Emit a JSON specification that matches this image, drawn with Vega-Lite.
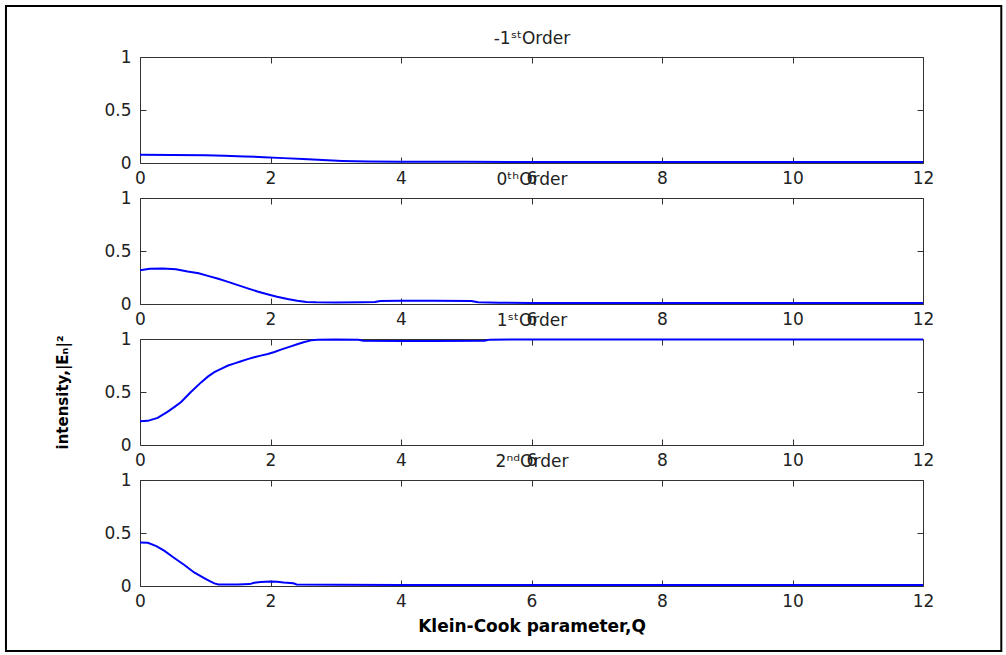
{
  "$schema": "https://vega.github.io/schema/vega-lite/v6.json",
  "padding": 4,
  "background": "white",
  "datasets": {
    "m1": [
      {"Q": 0, "I": 0.077}, {"Q": 0.5, "I": 0.076}, {"Q": 1.0, "I": 0.074}, {"Q": 1.3, "I": 0.068},
      {"Q": 1.6, "I": 0.062}, {"Q": 1.9, "I": 0.055}, {"Q": 2.2, "I": 0.046}, {"Q": 2.5, "I": 0.037},
      {"Q": 2.8, "I": 0.028}, {"Q": 3.1, "I": 0.02}, {"Q": 3.5, "I": 0.014}, {"Q": 4, "I": 0.012},
      {"Q": 5, "I": 0.011}, {"Q": 6, "I": 0.01}, {"Q": 8, "I": 0.01}, {"Q": 10, "I": 0.01}, {"Q": 12, "I": 0.01}
    ],
    "o0": [
      {"Q": 0, "I": 0.319}, {"Q": 0.15, "I": 0.333}, {"Q": 0.35, "I": 0.335}, {"Q": 0.55, "I": 0.328},
      {"Q": 0.73, "I": 0.306}, {"Q": 0.9, "I": 0.29}, {"Q": 1.04, "I": 0.265}, {"Q": 1.2, "I": 0.238},
      {"Q": 1.35, "I": 0.209}, {"Q": 1.5, "I": 0.178}, {"Q": 1.65, "I": 0.147}, {"Q": 1.8, "I": 0.118},
      {"Q": 1.98, "I": 0.087}, {"Q": 2.1, "I": 0.068}, {"Q": 2.26, "I": 0.047}, {"Q": 2.41, "I": 0.03},
      {"Q": 2.55, "I": 0.02}, {"Q": 2.7, "I": 0.016}, {"Q": 3.0, "I": 0.015}, {"Q": 3.4, "I": 0.016},
      {"Q": 3.6, "I": 0.019}, {"Q": 3.68, "I": 0.028}, {"Q": 4.0, "I": 0.03}, {"Q": 4.5, "I": 0.03},
      {"Q": 5.08, "I": 0.028}, {"Q": 5.18, "I": 0.016}, {"Q": 5.5, "I": 0.012}, {"Q": 6, "I": 0.01},
      {"Q": 8, "I": 0.01}, {"Q": 10, "I": 0.01}, {"Q": 12, "I": 0.01}
    ],
    "o1": [
      {"Q": 0, "I": 0.225}, {"Q": 0.12, "I": 0.228}, {"Q": 0.27, "I": 0.256}, {"Q": 0.42, "I": 0.312},
      {"Q": 0.53, "I": 0.36}, {"Q": 0.63, "I": 0.406}, {"Q": 0.78, "I": 0.5}, {"Q": 0.94, "I": 0.593},
      {"Q": 1.04, "I": 0.645}, {"Q": 1.14, "I": 0.687}, {"Q": 1.25, "I": 0.72}, {"Q": 1.35, "I": 0.75},
      {"Q": 1.45, "I": 0.77}, {"Q": 1.55, "I": 0.79}, {"Q": 1.65, "I": 0.81}, {"Q": 1.75, "I": 0.828},
      {"Q": 1.85, "I": 0.843}, {"Q": 1.96, "I": 0.859}, {"Q": 2.06, "I": 0.878}, {"Q": 2.16, "I": 0.9},
      {"Q": 2.3, "I": 0.928}, {"Q": 2.42, "I": 0.953}, {"Q": 2.52, "I": 0.972}, {"Q": 2.62, "I": 0.987},
      {"Q": 2.72, "I": 0.992}, {"Q": 3.0, "I": 0.995}, {"Q": 3.35, "I": 0.993}, {"Q": 3.42, "I": 0.983},
      {"Q": 4.0, "I": 0.982}, {"Q": 4.5, "I": 0.982}, {"Q": 5.28, "I": 0.983}, {"Q": 5.36, "I": 0.994},
      {"Q": 6, "I": 0.995}, {"Q": 8, "I": 0.996}, {"Q": 10, "I": 0.996}, {"Q": 12, "I": 0.996}
    ],
    "o2": [
      {"Q": 0, "I": 0.41}, {"Q": 0.12, "I": 0.408}, {"Q": 0.25, "I": 0.377}, {"Q": 0.37, "I": 0.333},
      {"Q": 0.52, "I": 0.267}, {"Q": 0.68, "I": 0.198}, {"Q": 0.83, "I": 0.128}, {"Q": 0.99, "I": 0.072},
      {"Q": 1.07, "I": 0.045}, {"Q": 1.14, "I": 0.025}, {"Q": 1.2, "I": 0.015}, {"Q": 1.5, "I": 0.015},
      {"Q": 1.68, "I": 0.018}, {"Q": 1.75, "I": 0.03}, {"Q": 1.85, "I": 0.038}, {"Q": 2.0, "I": 0.043},
      {"Q": 2.1, "I": 0.04}, {"Q": 2.2, "I": 0.032}, {"Q": 2.35, "I": 0.025}, {"Q": 2.4, "I": 0.015},
      {"Q": 3, "I": 0.012}, {"Q": 4, "I": 0.01}, {"Q": 6, "I": 0.01}, {"Q": 8, "I": 0.01},
      {"Q": 10, "I": 0.01}, {"Q": 12, "I": 0.01}
    ]
  },
  "spacing": 35,
  "bounds": "flush",
  "vconcat": [
    {
      "width": 783, "height": 106,
      "layer": [
        {
          "data": {"name": "m1"},
          "mark": {"type": "line", "color": "#0000ff", "strokeWidth": 2},
          "encoding": {
            "x": {"field": "Q", "type": "quantitative", "scale": {"domain": [0, 12], "nice": false, "zero": false},
                  "axis": {"orient": "bottom", "values": [0, 2, 4, 6, 8, 10, 12], "title": null, "labelFlush": false, "labelPadding": 13}},
            "y": {"field": "I", "type": "quantitative", "scale": {"domain": [0, 1], "nice": false},
                  "axis": {"orient": "left", "values": [0, 0.5, 1], "format": "~g", "title": null, "labelPadding": 15}}
          }
        },
        {
          "data": {"name": "m1"},
          "mark": {"type": "line", "strokeOpacity": 0},
          "encoding": {
            "x": {"field": "Q", "type": "quantitative",
                  "axis": {"orient": "top", "values": [0, 2, 4, 6, 8, 10, 12], "labels": false, "title": "-1ˢᵗOrder"}},
            "y": {"field": "I", "type": "quantitative", "axis": {"orient": "right", "values": [0, 0.5, 1], "labels": false, "title": null}}
          }
        },
        {
          "data": {"values": [{"frame": "figure"}]},
          "mark": {"type": "rect", "fill": null, "stroke": "#000000", "strokeWidth": 2},
          "encoding": {
            "x": {"datum": -2.054, "type": "quantitative", "axis": null},
            "x2": {"datum": 13.2},
            "y": {"datum": 1.481, "type": "quantitative", "axis": null},
            "y2": {"datum": -4.604}
          }
        }
      ],
      "resolve": {"axis": {"x": "independent", "y": "independent"}}
    },
    {
      "width": 783, "height": 106,
      "layer": [
        {
          "data": {"name": "o0"},
          "mark": {"type": "line", "color": "#0000ff", "strokeWidth": 2},
          "encoding": {
            "x": {"field": "Q", "type": "quantitative", "scale": {"domain": [0, 12], "nice": false, "zero": false},
                  "axis": {"orient": "bottom", "values": [0, 2, 4, 6, 8, 10, 12], "title": null, "labelFlush": false, "labelPadding": 13}},
            "y": {"field": "I", "type": "quantitative", "scale": {"domain": [0, 1], "nice": false},
                  "axis": {"orient": "left", "values": [0, 0.5, 1], "format": "~g", "title": null, "labelPadding": 15}}
          }
        },
        {
          "data": {"name": "o0"},
          "mark": {"type": "line", "strokeOpacity": 0},
          "encoding": {
            "x": {"field": "Q", "type": "quantitative",
                  "axis": {"orient": "top", "values": [0, 2, 4, 6, 8, 10, 12], "labels": false, "title": "0ᵗʰOrder"}},
            "y": {"field": "I", "type": "quantitative", "axis": {"orient": "right", "values": [0, 0.5, 1], "labels": false, "title": null}}
          }
        }
      ],
      "resolve": {"axis": {"x": "independent", "y": "independent"}}
    },
    {
      "width": 783, "height": 106,
      "layer": [
        {
          "data": {"name": "o1"},
          "mark": {"type": "line", "color": "#0000ff", "strokeWidth": 2},
          "encoding": {
            "x": {"field": "Q", "type": "quantitative", "scale": {"domain": [0, 12], "nice": false, "zero": false},
                  "axis": {"orient": "bottom", "values": [0, 2, 4, 6, 8, 10, 12], "title": null, "labelFlush": false, "labelPadding": 13}},
            "y": {"field": "I", "type": "quantitative", "scale": {"domain": [0, 1], "nice": false},
                  "axis": {"orient": "left", "values": [0, 0.5, 1], "format": "~g", "labelPadding": 15,
                           "title": "intensity,|Eₙ|²", "titleFontSize": 15, "titleFontWeight": "bold",
                           "titleColor": "#000000", "titleBaseline": "bottom", "titlePadding": 33}}
          }
        },
        {
          "data": {"name": "o1"},
          "mark": {"type": "line", "strokeOpacity": 0},
          "encoding": {
            "x": {"field": "Q", "type": "quantitative",
                  "axis": {"orient": "top", "values": [0, 2, 4, 6, 8, 10, 12], "labels": false, "title": "1ˢᵗOrder"}},
            "y": {"field": "I", "type": "quantitative", "axis": {"orient": "right", "values": [0, 0.5, 1], "labels": false, "title": null}}
          }
        }
      ],
      "resolve": {"axis": {"x": "independent", "y": "independent"}}
    },
    {
      "width": 783, "height": 106,
      "layer": [
        {
          "data": {"name": "o2"},
          "mark": {"type": "line", "color": "#0000ff", "strokeWidth": 2},
          "encoding": {
            "x": {"field": "Q", "type": "quantitative", "scale": {"domain": [0, 12], "nice": false, "zero": false},
                  "axis": {"orient": "bottom", "values": [0, 2, 4, 6, 8, 10, 12], "labelFlush": false, "labelPadding": 13,
                           "title": "Klein-Cook parameter,Q", "titleFontSize": 17, "titleFontWeight": "bold",
                           "titleColor": "#000000", "titleBaseline": "top", "titlePadding": 9}},
            "y": {"field": "I", "type": "quantitative", "scale": {"domain": [0, 1], "nice": false},
                  "axis": {"orient": "left", "values": [0, 0.5, 1], "format": "~g", "title": null, "labelPadding": 15}}
          }
        },
        {
          "data": {"name": "o2"},
          "mark": {"type": "line", "strokeOpacity": 0},
          "encoding": {
            "x": {"field": "Q", "type": "quantitative",
                  "axis": {"orient": "top", "values": [0, 2, 4, 6, 8, 10, 12], "labels": false, "title": "2ⁿᵈOrder"}},
            "y": {"field": "I", "type": "quantitative", "axis": {"orient": "right", "values": [0, 0.5, 1], "labels": false, "title": null}}
          }
        }
      ],
      "resolve": {"axis": {"x": "independent", "y": "independent"}}
    }
  ],
  "config": {
    "font": "DejaVu Sans",
    "view": {"stroke": "#333333", "strokeWidth": 1},
    "axis": {
      "domain": false,
      "grid": false,
      "ticks": true,
      "tickSize": -6,
      "tickColor": "#333333",
      "tickWidth": 1,
      "labelFont": "DejaVu Sans",
      "labelFontSize": 17,
      "labelColor": "#222222",
      "titleFont": "DejaVu Sans",
      "titleFontSize": 17,
      "titleFontWeight": "normal",
      "titleColor": "#222222",
      "titleBaseline": "alphabetic",
      "titlePadding": 13
    }
  }
}
